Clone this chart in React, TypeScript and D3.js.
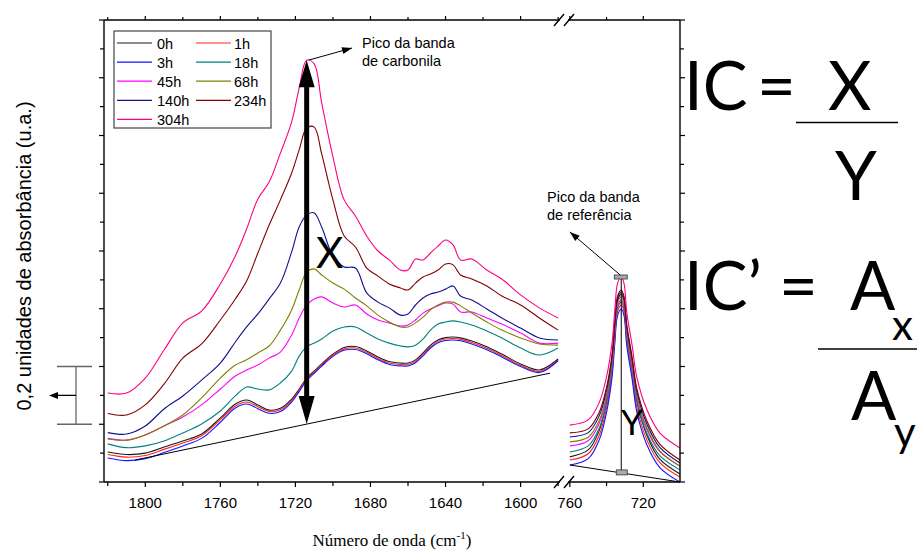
import React from 'react';
import * as d3 from 'd3';

const W = 917;
const H = 552;

// Exposure times (legend order) and their line colours
const seriesLabels = ['0h', '1h', '3h', '18h', '45h', '68h', '140h', '234h', '304h'];
const seriesColors = ['#1a1a1a', '#ff2222', '#1414ff', '#008080', '#ff00ff', '#808000', '#10108c', '#800000', '#ff0080'];

// Carbonyl region (cm-1)
const carbonylWavenumbers = [1820, 1810, 1800, 1790, 1780, 1770, 1760, 1752, 1746, 1740, 1734, 1728, 1722, 1718, 1714, 1710, 1706, 1700, 1694, 1688, 1682, 1676, 1670, 1664, 1660, 1656, 1652, 1648, 1644, 1640, 1636, 1632, 1626, 1618, 1610, 1600, 1590, 1580];

const carbonyl0h = [0.104, 0.095, 0.100, 0.121, 0.142, 0.166, 0.222, 0.270, 0.284, 0.267, 0.249, 0.255, 0.287, 0.322, 0.360, 0.384, 0.409, 0.443, 0.466, 0.469, 0.454, 0.433, 0.417, 0.412, 0.412, 0.423, 0.447, 0.474, 0.492, 0.500, 0.502, 0.499, 0.488, 0.468, 0.443, 0.409, 0.388, 0.426];
const carbonyl1h = [0.095, 0.086, 0.092, 0.113, 0.135, 0.160, 0.216, 0.263, 0.277, 0.261, 0.244, 0.250, 0.282, 0.318, 0.356, 0.380, 0.405, 0.439, 0.461, 0.464, 0.449, 0.428, 0.412, 0.407, 0.407, 0.418, 0.442, 0.469, 0.487, 0.495, 0.497, 0.494, 0.483, 0.463, 0.438, 0.404, 0.383, 0.422];
const carbonyl3h = [0.083, 0.074, 0.081, 0.102, 0.125, 0.151, 0.207, 0.256, 0.270, 0.254, 0.238, 0.244, 0.277, 0.313, 0.352, 0.376, 0.401, 0.435, 0.456, 0.459, 0.444, 0.423, 0.407, 0.402, 0.402, 0.413, 0.437, 0.464, 0.482, 0.490, 0.492, 0.489, 0.478, 0.458, 0.433, 0.400, 0.379, 0.420];
const carbonyl18h = [0.132, 0.119, 0.125, 0.142, 0.170, 0.201, 0.246, 0.298, 0.329, 0.322, 0.319, 0.343, 0.384, 0.436, 0.468, 0.481, 0.495, 0.523, 0.537, 0.537, 0.516, 0.495, 0.481, 0.471, 0.468, 0.474, 0.495, 0.526, 0.547, 0.554, 0.558, 0.554, 0.544, 0.523, 0.499, 0.464, 0.440, 0.464];
const carbonyl45h = [0.151, 0.145, 0.163, 0.194, 0.225, 0.267, 0.322, 0.367, 0.388, 0.405, 0.429, 0.450, 0.509, 0.568, 0.613, 0.634, 0.641, 0.620, 0.606, 0.613, 0.582, 0.561, 0.551, 0.540, 0.544, 0.561, 0.585, 0.599, 0.610, 0.620, 0.616, 0.589, 0.589, 0.568, 0.547, 0.516, 0.481, 0.481];
const carbonyl68h = [0.149, 0.145, 0.163, 0.194, 0.232, 0.291, 0.360, 0.405, 0.423, 0.447, 0.471, 0.526, 0.596, 0.665, 0.727, 0.738, 0.717, 0.689, 0.668, 0.637, 0.610, 0.578, 0.554, 0.537, 0.537, 0.551, 0.571, 0.596, 0.613, 0.623, 0.623, 0.610, 0.585, 0.554, 0.526, 0.499, 0.478, 0.474];
const carbonyl140h = [0.171, 0.166, 0.194, 0.253, 0.298, 0.353, 0.412, 0.485, 0.537, 0.582, 0.634, 0.689, 0.797, 0.883, 0.925, 0.932, 0.883, 0.783, 0.745, 0.741, 0.655, 0.623, 0.603, 0.578, 0.582, 0.613, 0.637, 0.651, 0.658, 0.668, 0.679, 0.644, 0.630, 0.599, 0.568, 0.533, 0.499, 0.492];
const carbonyl234h = [0.237, 0.232, 0.267, 0.339, 0.429, 0.478, 0.561, 0.634, 0.696, 0.793, 0.890, 0.977, 1.070, 1.150, 1.226, 1.229, 1.136, 0.977, 0.852, 0.814, 0.741, 0.713, 0.686, 0.672, 0.665, 0.689, 0.710, 0.720, 0.734, 0.755, 0.752, 0.717, 0.703, 0.679, 0.644, 0.613, 0.568, 0.526];
const carbonyl304h = [0.308, 0.308, 0.360, 0.457, 0.551, 0.592, 0.686, 0.783, 0.876, 0.980, 1.039, 1.139, 1.247, 1.364, 1.461, 1.448, 1.313, 1.126, 0.977, 0.921, 0.852, 0.800, 0.769, 0.734, 0.734, 0.772, 0.769, 0.793, 0.817, 0.838, 0.821, 0.769, 0.772, 0.734, 0.703, 0.648, 0.603, 0.568];

// Reference band region (cm-1)
const referenceWavenumbers = [760, 750, 744, 740, 737, 735.5, 734, 732, 730.5, 729, 726, 723.5, 718, 711, 700];

const reference0h = [0.087, 0.111, 0.178, 0.277, 0.405, 0.528, 0.627, 0.651, 0.627, 0.520, 0.394, 0.279, 0.161, 0.079, 0.028];
const reference1h = [0.076, 0.098, 0.162, 0.257, 0.378, 0.495, 0.590, 0.613, 0.590, 0.488, 0.368, 0.258, 0.145, 0.067, 0.017];
const reference3h = [0.059, 0.081, 0.146, 0.241, 0.363, 0.481, 0.576, 0.599, 0.576, 0.473, 0.353, 0.242, 0.128, 0.050, 0.000];
const reference18h = [0.104, 0.125, 0.186, 0.277, 0.395, 0.509, 0.601, 0.623, 0.601, 0.502, 0.385, 0.278, 0.168, 0.091, 0.042];
const reference45h = [0.125, 0.143, 0.203, 0.291, 0.407, 0.518, 0.609, 0.630, 0.608, 0.511, 0.396, 0.290, 0.181, 0.105, 0.055];
const reference68h = [0.139, 0.155, 0.213, 0.301, 0.417, 0.528, 0.619, 0.641, 0.619, 0.521, 0.405, 0.298, 0.187, 0.108, 0.055];
const reference140h = [0.156, 0.171, 0.229, 0.317, 0.433, 0.545, 0.636, 0.658, 0.636, 0.537, 0.421, 0.313, 0.200, 0.120, 0.066];
const reference234h = [0.170, 0.184, 0.241, 0.328, 0.442, 0.553, 0.644, 0.665, 0.643, 0.545, 0.429, 0.323, 0.211, 0.131, 0.076];
const reference304h = [0.197, 0.215, 0.275, 0.365, 0.482, 0.595, 0.688, 0.710, 0.688, 0.588, 0.470, 0.362, 0.250, 0.170, 0.118];

const carbonylSeries = [carbonyl0h, carbonyl1h, carbonyl3h, carbonyl18h, carbonyl45h, carbonyl68h, carbonyl140h, carbonyl234h, carbonyl304h];
const referenceSeries = [reference0h, reference1h, reference3h, reference18h, reference45h, reference68h, reference140h, reference234h, reference304h];

// Tangent baselines [wavenumber, absorbance]
const carbonylBaseline: [number, number][] = [[1805.5, 0.076], [1584.3, 0.377]];
const referenceBaseline: [number, number][] = [[760, 0.059], [700, 0.0]];
const carbonylPeakWavenumber = 1714;
const referencePeakWavenumber = 732;

// Tick values
const leftMajorTicks = [1800, 1760, 1720, 1680, 1640, 1600];
const leftMinorTicks = [1820, 1780, 1740, 1700, 1660, 1620, 1580];
const rightMajorTicks = [760, 720];
const rightMinorTicks = [740];
const yTickValues = d3.range(0, 17).map((i) => i / 10);

const SANS = '"Liberation Sans", Arial, sans-serif';
const SERIF = '"Liberation Serif", "Times New Roman", serif';
const CALIBRI = 'Lato, "Open Sans", sans-serif';

function headPoints(x1: number, y1: number, x2: number, y2: number, len: number, half: number) {
  const a = Math.atan2(y2 - y1, x2 - x1);
  const bx = x2 - len * Math.cos(a);
  const by = y2 - len * Math.sin(a);
  const px = -Math.sin(a) * half;
  const py = Math.cos(a) * half;
  return `${x2},${y2} ${bx + px},${by + py} ${bx - px},${by - py}`;
}

export default function App() {
  const top = 20;
  const bottom = 482;
  const left = 104;
  const breakL = 560;
  const breakR = 568;
  const right = 680;

  const xL = d3.scaleLinear().domain([1822, 1579]).range([left, breakL]);
  const xR = d3.scaleLinear().domain([761, 700]).range([breakR, right]);
  const y = d3.scaleLinear().domain([0, 1.6]).range([bottom, top]);

  const lineL = d3
    .line<number>()
    .x((_, i) => xL(carbonylWavenumbers[i]))
    .y((d) => y(d))
    .curve(d3.curveCatmullRom.alpha(0.5));
  const lineR = d3
    .line<number>()
    .x((_, i) => xR(referenceWavenumbers[i]))
    .y((d) => y(d))
    .curve(d3.curveCatmullRom.alpha(0.5));

  // carbonyl peak / baseline for the X arrow
  const peakIdx = carbonylWavenumbers.indexOf(carbonylPeakWavenumber);
  const peakVal = carbonyl304h[peakIdx];
  const [b0, b1] = carbonylBaseline;
  const baseAtPeak = b0[1] + ((carbonylPeakWavenumber - b0[0]) / (b1[0] - b0[0])) * (b1[1] - b0[1]);
  const ax = xL(carbonylPeakWavenumber);
  const aTop = y(peakVal);
  const aBot = y(baseAtPeak);

  // reference peak / baseline for Y
  const refIdx = referenceWavenumbers.indexOf(referencePeakWavenumber);
  const refPeakVal = reference304h[refIdx];
  const [r0, r1] = referenceBaseline;
  const refBase = r0[1] + ((referencePeakWavenumber - r0[0]) / (r1[0] - r0[0])) * (r1[1] - r0[1]);
  const rx = xR(referencePeakWavenumber);
  const rTop = y(refPeakVal);
  const rBot = y(refBase);

  const legendRows = [
    [0, 1],
    [2, 3],
    [4, 5],
    [6, 7],
    [8],
  ];

  const slash = (cx: number, cy: number) => `M${cx - 5},${cy + 6}L${cx + 5},${cy - 6}`;

  return (
    <svg width={W} height={H} style={{ position: 'absolute', left: 0, top: 0, background: '#fff' }}>
      <rect x={0} y={0} width={W} height={H} fill="#fff" />

      {/* spectra */}
      <g fill="none" strokeWidth={1.1}>
        {carbonylSeries.map((s, i) => (
          <path key={`l${i}`} d={lineL(s) || ''} stroke={seriesColors[i]} />
        ))}
        {referenceSeries.map((s, i) => (
          <path key={`r${i}`} d={lineR(s) || ''} stroke={seriesColors[i]} />
        ))}
      </g>

      {/* frame with axis break */}
      <g stroke="#000" strokeWidth={1.4} fill="none">
        <line x1={left} y1={top} x2={left} y2={bottom} />
        <line x1={right} y1={top} x2={right} y2={bottom} />
        <line x1={left} y1={bottom} x2={breakL} y2={bottom} />
        <line x1={breakR} y1={bottom} x2={right} y2={bottom} />
        <line x1={left} y1={top} x2={breakL} y2={top} />
        <line x1={breakR} y1={top} x2={right} y2={top} />
        <path d={slash(breakL - 1, bottom) + slash(breakR + 1, bottom)} />
        <path d={slash(breakL - 1, top) + slash(breakR + 1, top)} />
      </g>

      {/* ticks */}
      <g stroke="#000" strokeWidth={1.2}>
        {leftMajorTicks.map((t) => (
          <g key={`lm${t}`}>
            <line x1={xL(t)} x2={xL(t)} y1={bottom} y2={bottom + 5} />
            <line x1={xL(t)} x2={xL(t)} y1={top} y2={top - 4} />
          </g>
        ))}
        {leftMinorTicks.map((t) => (
          <g key={`ln${t}`}>
            <line x1={xL(t)} x2={xL(t)} y1={bottom} y2={bottom + 4} />
            <line x1={xL(t)} x2={xL(t)} y1={top} y2={top - 3} />
          </g>
        ))}
        {rightMajorTicks.map((t) => (
          <g key={`rm${t}`}>
            <line x1={xR(t)} x2={xR(t)} y1={bottom} y2={bottom + 5} />
            <line x1={xR(t)} x2={xR(t)} y1={top} y2={top - 4} />
          </g>
        ))}
        {rightMinorTicks.map((t) => (
          <g key={`rn${t}`}>
            <line x1={xR(t)} x2={xR(t)} y1={bottom} y2={bottom + 4} />
            <line x1={xR(t)} x2={xR(t)} y1={top} y2={top - 3} />
          </g>
        ))}
        {yTickValues.map((t, i) => (
          <g key={`y${i}`}>
            <line x1={left} x2={left - (i % 2 === 0 ? 5 : 4)} y1={y(t)} y2={y(t)} />
            <line x1={right} x2={right + (i % 2 === 0 ? 5 : 4)} y1={y(t)} y2={y(t)} />
          </g>
        ))}
      </g>

      {/* tick labels */}
      <g fontFamily={SANS} fontSize={15} textAnchor="middle" fill="#000">
        {leftMajorTicks.map((t) => (
          <text key={`tl${t}`} x={xL(t)} y={508}>
            {t}
          </text>
        ))}
        {rightMajorTicks.map((t) => (
          <text key={`tr${t}`} x={xR(t)} y={508}>
            {t}
          </text>
        ))}
      </g>

      {/* axis titles */}
      <text x={392} y={546} fontFamily={SERIF} fontSize={17} textAnchor="middle" fill="#000">
        Número de onda (cm
        <tspan dy={-7} fontSize={11}>
          -1
        </tspan>
        <tspan dy={7}>)</tspan>
      </text>
      <text
        transform={`translate(31, 256) rotate(-90)`}
        fontFamily={SANS}
        fontSize={20}
        textAnchor="middle"
        fill="#000"
      >
        0,2 unidades de absorbância (u.a.)
      </text>

      {/* 0,2 scale bracket */}
      <g stroke="#666" strokeWidth={1.3}>
        <line x1={57} x2={92} y1={y(0.4)} y2={y(0.4)} />
        <line x1={57} x2={92} y1={y(0.2)} y2={y(0.2)} />
        <line x1={76} x2={76} y1={y(0.4)} y2={y(0.2)} />
      </g>
      <line x1={76} x2={56} y1={y(0.3)} y2={y(0.3)} stroke="#000" strokeWidth={1.3} />
      <polygon points={headPoints(76, y(0.3), 49, y(0.3), 9, 3.5)} fill="#000" />

      {/* tangent baselines */}
      <g stroke="#000" strokeWidth={1}>
        <line x1={xL(b0[0])} y1={y(b0[1])} x2={xL(b1[0])} y2={y(b1[1])} />
        <line x1={xR(r0[0])} y1={y(r0[1])} x2={xR(r1[0])} y2={y(r1[1])} />
      </g>

      {/* X: carbonyl peak height */}
      <line x1={ax} x2={ax} y1={aTop + 24} y2={aBot - 24} stroke="#000" strokeWidth={5} />
      <polygon points={headPoints(ax, aTop + 30, ax, aTop, 27, 8)} fill="#000" />
      <polygon points={headPoints(ax, aBot - 30, ax, aBot, 28, 8)} fill="#000" />
      <text x={316} y={268} fontFamily={CALIBRI} fontSize={42} fill="#000">
        X
      </text>

      <line x1={ax + 2} y1={aTop} x2={xL(1689.8)} y2={y(1.503)} stroke="#000" strokeWidth={1} />
      <polygon points={headPoints(ax + 2, aTop, xL(1689.8), y(1.503), 10, 3.5)} fill="#000" />
      <g fontFamily={SANS} fontSize={14.5} fill="#000">
        <text x={362} y={48}>
          Pico da banda
        </text>
        <text x={362} y={66}>
          de carbonila
        </text>
      </g>

      {/* Y: reference peak height */}
      <line x1={rx} x2={rx} y1={rTop} y2={rBot} stroke="#000" strokeWidth={1} />
      <rect x={rx - 7} y={rTop - 2} width={13} height={4} fill="#aaa" stroke="#333" strokeWidth={0.8} />
      <rect x={rx - 5} y={rBot - 3} width={11} height={5} fill="#aaa" stroke="#333" strokeWidth={0.8} />
      <line x1={rx - 1} y1={rTop - 2} x2={xR(760)} y2={y(0.866)} stroke="#000" strokeWidth={1} />
      <polygon points={headPoints(rx - 1, rTop - 2, xR(760), y(0.866), 10, 3.5)} fill="#000" />
      <g fontFamily={SANS} fontSize={14.5} fill="#000">
        <text x={547} y={202}>
          Pico da banda
        </text>
        <text x={547} y={220}>
          de referência
        </text>
      </g>
      <text x={621} y={435} fontFamily={CALIBRI} fontSize={35} fill="#000">
        Y
      </text>

      {/* legend */}
      <g>
        <rect x={114} y={31} width={157} height={97} fill="#fff" stroke="#444" strokeWidth={1.2} />
        {legendRows.map((row, r) =>
          row.map((si, c) => {
            const cy = 43 + r * 19.1;
            const lx = c === 0 ? 117 : 196;
            return (
              <g key={`lg${si}`}>
                <line x1={lx} x2={lx + 35} y1={cy} y2={cy} stroke={seriesColors[si]} strokeWidth={1.2} />
                <text x={lx + (c === 0 ? 40 : 38)} y={cy + 5.5} fontFamily={SANS} fontSize={14.5} fill="#000">
                  {seriesLabels[si]}
                </text>
              </g>
            );
          })
        )}
      </g>

      {/* index formulas */}
      <g fontFamily={CALIBRI} fill="#000">
        <text x={684} y={110} fontSize={67}>IC</text>
        <text x={757} y={110} fontSize={67}>=</text>
        <text x={828} y={110} fontSize={67}>X</text>
        <line x1={796} x2={898} y1={122.5} y2={122.5} stroke="#000" strokeWidth={1.6} />
        <text x={835} y={200} fontSize={67}>Y</text>

        <text x={684} y={310} fontSize={67}>IC’</text>
        <text x={779} y={310} fontSize={67}>=</text>
        <text x={850} y={310} fontSize={67}>A</text>
        <text x={892} y={340} fontSize={42}>x</text>
        <line x1={818} x2={917} y1={349} y2={349} stroke="#000" strokeWidth={1.6} />
        <text x={851} y={420} fontSize={67}>A</text>
        <text x={894} y={447} fontSize={42}>y</text>
      </g>
    </svg>
  );
}
